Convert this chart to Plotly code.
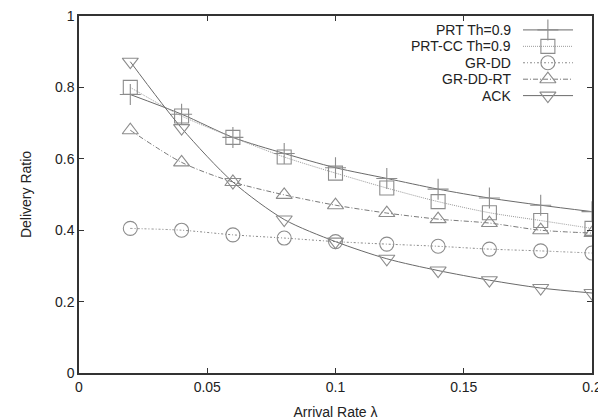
import plotly.graph_objects as go

arrival_rate = [0.02, 0.04, 0.06, 0.08, 0.10, 0.12, 0.14, 0.16, 0.18, 0.20]
prt = [0.78, 0.725, 0.66, 0.615, 0.575, 0.545, 0.515, 0.49, 0.47, 0.452]
prt_cc = [0.80, 0.72, 0.66, 0.605, 0.56, 0.518, 0.48, 0.449, 0.427, 0.405]
gr_dd = [0.405, 0.40, 0.387, 0.378, 0.368, 0.361, 0.355, 0.347, 0.342, 0.336]
gr_dd_rt = [0.68, 0.59, 0.535, 0.499, 0.47, 0.448, 0.431, 0.42, 0.40, 0.392]
ack = [0.872, 0.686, 0.535, 0.43, 0.368, 0.32, 0.287, 0.26, 0.238, 0.224]

series_names = ["PRT Th=0.9", "PRT-CC Th=0.9", "GR-DD", "GR-DD-RT", "ACK"]
series_values = [prt, prt_cc, gr_dd, gr_dd_rt, ack]
x_ticks = [0, 0.05, 0.1, 0.15, 0.2]
y_ticks = [0, 0.2, 0.4, 0.6, 0.8, 1]

FONT = "Liberation Sans, Arial, Helvetica, sans-serif"

styles = [
    dict(symbol="cross-thin-open", size=15, dash="solid", lc="#6a6a6a"),
    dict(symbol="square-open", size=14, dash="1px,1px", lc="#9a9a9a"),
    dict(symbol="circle-open", size=14, dash="2px,2px,1px,2px", lc="#8a8a8a"),
    dict(symbol="triangle-up-open", size=14, dash="5px,2px,1px,2px", lc="#7a7a7a"),
    dict(symbol="triangle-down-open", size=14, dash="solid", lc="#6a6a6a"),
]

fig = go.Figure()
for name, vals, st in zip(series_names, series_values, styles):
    fig.add_trace(go.Scatter(
        x=arrival_rate, y=vals, mode="lines+markers", name=name,
        line=dict(color=st["lc"], width=1, dash=st["dash"], shape="spline", smoothing=0.8),
        marker=dict(symbol=st["symbol"], size=st["size"], color="#8c8c8c",
                    line=dict(color="#8c8c8c", width=1.1)),
        showlegend=False,
    ))

# gnuplot-style key (text right-aligned, sample on the right) on an overlay axis
row_y = [0.961, 0.915, 0.869, 0.823, 0.777]
for name, st, yy in zip(series_names, styles, row_y):
    fig.add_trace(go.Scatter(
        x=[0.8655, 0.963], y=[yy, yy], mode="lines", xaxis="x2", yaxis="y2",
        line=dict(color=st["lc"], width=1, dash=st["dash"]), showlegend=False, hoverinfo="skip"))
    fig.add_trace(go.Scatter(
        x=[0.914], y=[yy], mode="markers", xaxis="x2", yaxis="y2",
        marker=dict(symbol=st["symbol"], size=st["size"], color="#8c8c8c",
                    line=dict(color="#8c8c8c", width=1.1)),
        showlegend=False, hoverinfo="skip"))
    fig.add_annotation(x=0.846, y=yy, xref="x2", yref="y2", text=name, showarrow=False,
                       xanchor="right", yanchor="middle",
                       font=dict(family=FONT, size=14, color="#222"))

axis_common = dict(showgrid=False, zeroline=False, showline=True, linecolor="#333", linewidth=1.5,
                   mirror="allticks", ticks="inside", ticklen=5, tickcolor="#333", tickwidth=1,
                   ticklabeloverflow="allow",
                   tickfont=dict(family=FONT, size=14, color="#222"))

# page body has an 8px default margin; margins compensate so the plot lands where it should
fig.update_layout(
    width=606, height=419,
    margin=dict(l=71, r=22, t=8, b=54),
    paper_bgcolor="white", plot_bgcolor="white",
    xaxis=dict(range=[0, 0.2], tickvals=x_ticks, ticktext=[str(v) for v in x_ticks],
               title=dict(text="Arrival Rate λ", standoff=14,
                          font=dict(family=FONT, size=14, color="#222")),
               automargin=False, **axis_common),
    yaxis=dict(range=[0, 1], tickvals=y_ticks, ticktext=[("%g" % v) for v in y_ticks],
               title=dict(text="Delivery Ratio", standoff=20,
                          font=dict(family=FONT, size=14, color="#222")),
               automargin=False, **axis_common),
    xaxis2=dict(range=[0, 1], overlaying="x", visible=False, fixedrange=True),
    yaxis2=dict(range=[0, 1], overlaying="y", visible=False, fixedrange=True),
    showlegend=False,
)

fig.write_html("out.html")
